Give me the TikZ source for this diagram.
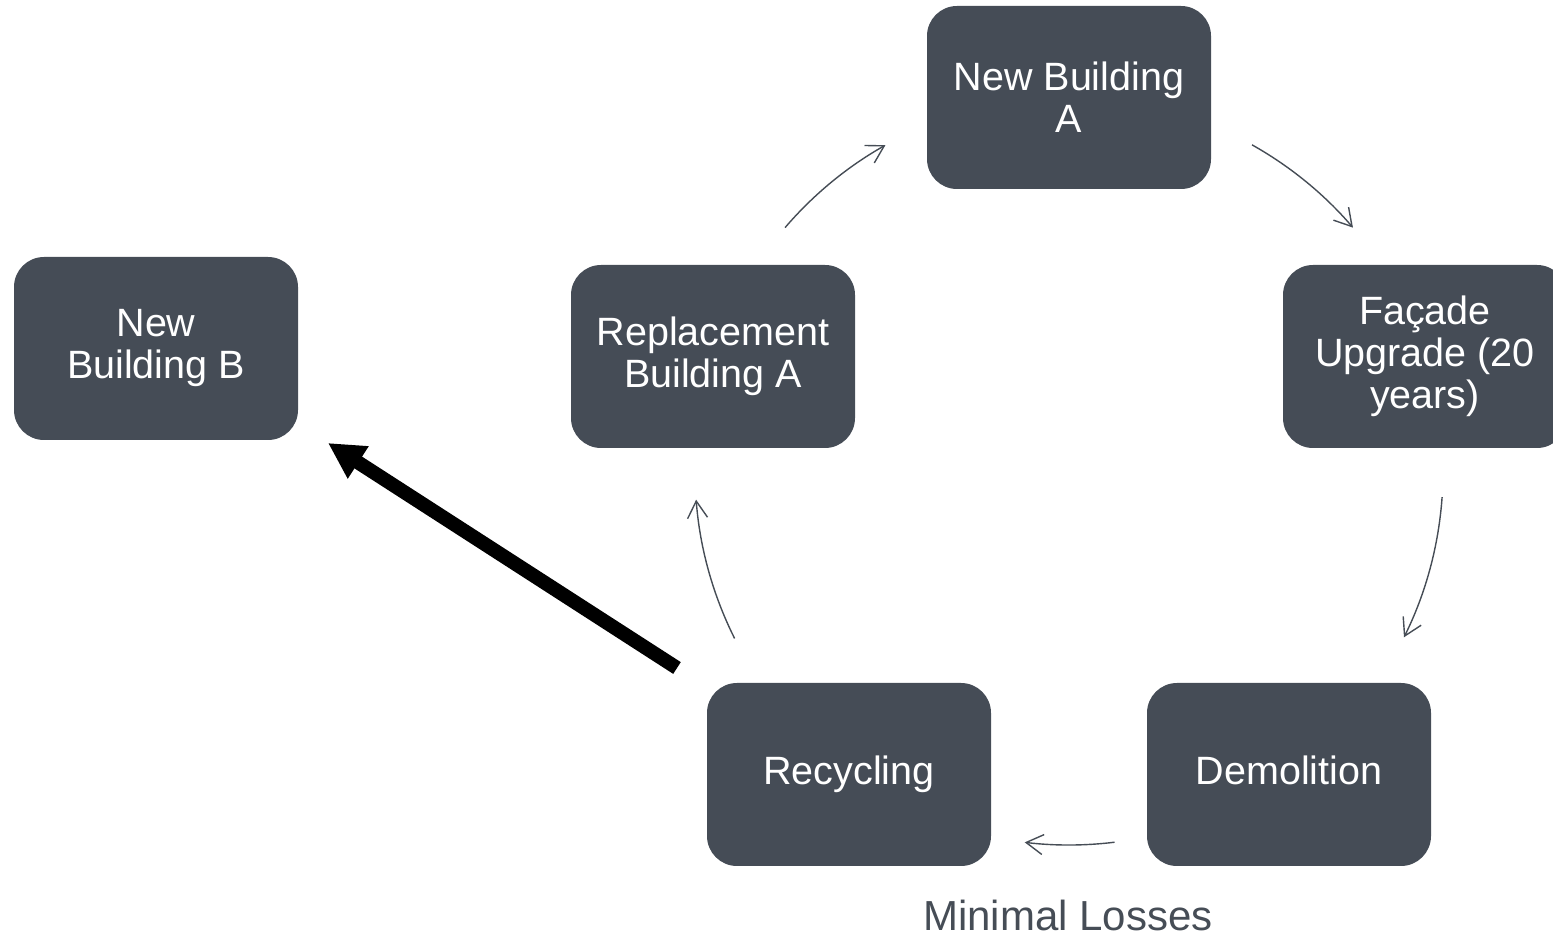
\documentclass[tikz,border=0pt]{standalone}
\usepackage{fontspec}
\setmainfont{Liberation Sans}
\usetikzlibrary{arrows.meta,calc}
\definecolor{boxfill}{HTML}{454C56}
\definecolor{linegray}{HTML}{464D56}
\begin{document}
\begin{tikzpicture}[x=1pt,y=1pt,
  stage/.style={rectangle, rounded corners=30pt, fill=boxfill, text=white,
    minimum width=284pt, minimum height=183pt, inner sep=0pt, align=center,
    font=\fontsize{39.5}{42}\selectfont},
  cyc/.style={draw=linegray, line width=1.4pt,
    -{Straight Barb[length=17pt,width=20pt,line width=1.4pt]}},
  bigarrow/.style={draw=black, line width=14pt,
    -{Triangle[length=36pt,width=36pt]}}]
\useasboundingbox (0,0) rectangle (1553,937);

% the stages of the cycle
\node[stage] (nbA)  at (1069,839.5) {New Building\\A};
\node[stage] (fac)  at (1425,580.5) {Façade\\Upgrade (20\\years)};
\node[stage] (dem)  at (1289,162.5) {Demolition\vphantom{g}};
\node[stage] (rec)  at (849,162.5)  {Recycling};
\node[stage] (rep)  at (713,580.5)  {Replacement\\Building A};
\node[stage] (nbB)  at (156,588.5)  {New\\Building B};

% arcs of the cycle around a common centre
\coordinate (ctr) at (1069,466);
\coordinate (a1) at ($(ctr)+(60.7:374)$);
\coordinate (a2) at ($(ctr)+(-4.0:374)$);
\coordinate (a3) at ($(ctr)+(-83.0:374)$);
\coordinate (a4) at ($(ctr)+(-153.4:374)$);
\coordinate (a5) at ($(ctr)+(139.4:374)$);
\draw[cyc] (a1) arc[start angle=60.7,  end angle=40.6,   radius=374];
\draw[cyc] (a2) arc[start angle=-4.0,  end angle=-26.4,  radius=374];
\draw[cyc] (a3) arc[start angle=-83.0, end angle=-96.8,  radius=374];
\draw[cyc] (a4) arc[start angle=-153.4,end angle=-175.6, radius=374];
\draw[cyc] (a5) arc[start angle=139.4, end angle=119.4,  radius=374];

% recycled material feeding the second building
\coordinate (bstart) at (677,269);
\coordinate (btip)   at (328,494);
\draw[bigarrow] (bstart) -- (btip);

\node[font=\fontsize{42}{50}\selectfont, text=linegray, anchor=base] (loss) at (1068,6) {Minimal Losses};
\end{tikzpicture}
\end{document}
